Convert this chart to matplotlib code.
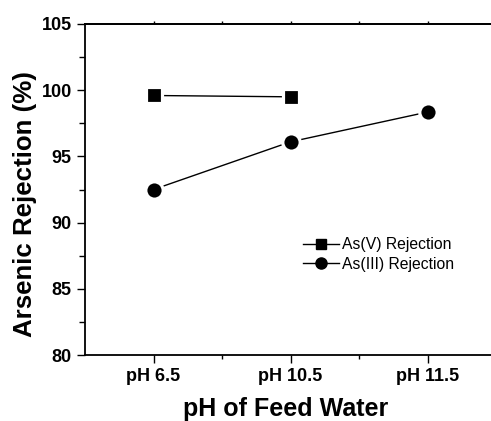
import matplotlib.pyplot as plt
from matplotlib.lines import Line2D
from matplotlib.ticker import MultipleLocator, FixedLocator

plt.rcParams['font.family'] = ['Liberation Sans', 'DejaVu Sans']

# datos
categorias = ['pH 6.5', 'pH 10.5', 'pH 11.5']
x_asv = [1, 2]
y_asv = [99.6, 99.5]
x_asiii = [1, 2, 3]
y_asiii = [92.5, 96.1, 98.35]

fig = plt.figure(figsize=(4.91, 4.21), dpi=100)
ax = fig.add_axes([85 / 491, 66 / 421, 411 / 491, 331 / 421])

# marcadores con borde blanco para dejar el hueco entre linea y punto
ax.plot(x_asv, y_asv, color='black', lw=1.0, marker='s', ms=11,
        mfc='black', mec='white', mew=2.3)
ax.plot(x_asiii, y_asiii, color='black', lw=1.0, marker='o', ms=12.5,
        mfc='black', mec='white', mew=2.3)

ax.set_xlim(0.5, 3.5)
ax.set_ylim(80, 105)
ax.set_xticks([1, 2, 3])
ax.set_xticklabels(categorias, fontsize=13, fontweight='bold')
ax.xaxis.set_minor_locator(FixedLocator([1.5, 2.5]))
ax.yaxis.set_major_locator(MultipleLocator(5))
ax.yaxis.set_minor_locator(MultipleLocator(2.5))
for lab in ax.get_yticklabels():
    lab.set_fontsize(13)
    lab.set_fontweight('bold')

ax.spines['right'].set_visible(False)
ax.tick_params(which='both', direction='out', right=False, top=False, width=1.0)
ax.tick_params(which='major', length=6)
ax.tick_params(which='minor', length=4)
ax.tick_params(axis='x', which='minor', length=3)
for s in ax.spines.values():
    s.set_linewidth(1.3)

# ticks cortos arriba, sin etiquetas
top = ax.secondary_xaxis('top')
top.set_xticks([1, 1.5, 2, 2.5, 3])
top.set_xticklabels([])
top.tick_params(direction='out', length=2.5, width=1.0)
top.spines['top'].set_linewidth(1.3)

ax.set_xlabel('pH of Feed Water', fontsize=18, fontweight='bold')
ax.xaxis.set_label_coords(0.488, -0.127)
ax.set_ylabel('Arsenic Rejection (%)', fontsize=18.6, fontweight='bold')
ax.yaxis.set_label_coords(-0.118, 0.455)

handles = [
    Line2D([], [], color='black', lw=1.0, marker='s', ms=6.5, mfc='black', mec='black'),
    Line2D([], [], color='black', lw=1.0, marker='o', ms=8, mfc='black', mec='black'),
]
ax.legend(handles, ['As(V) Rejection', 'As(III) Rejection'],
          loc='upper left', bbox_to_anchor=(212 / 411, 1 - 207 / 331),
          frameon=False, fontsize=11.3, handlelength=2.3,
          handletextpad=0.15, labelspacing=0.3, borderaxespad=0)

fig.savefig('out.png', dpi=100)
